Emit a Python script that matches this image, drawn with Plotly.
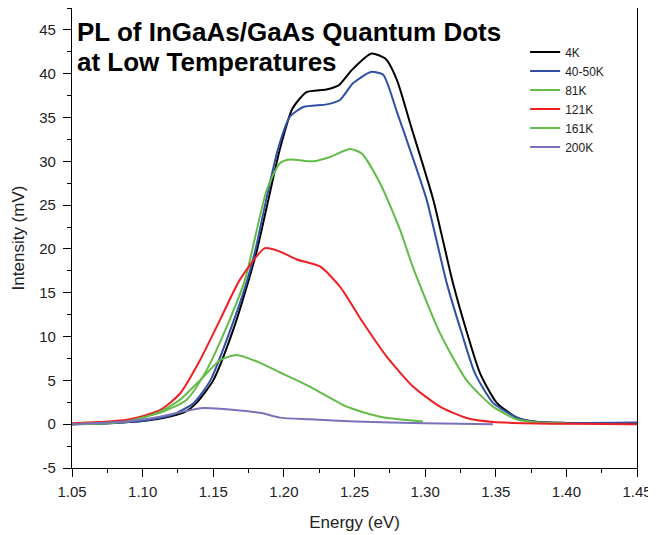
import plotly.graph_objects as go

# ---- data ----
series_names = ["4K", "40-50K", "81K", "121K", "161K", "200K"]

e_4k = [1.05, 1.08, 1.10, 1.12, 1.13, 1.138, 1.150, 1.164, 1.175, 1.181, 1.189, 1.197, 1.206, 1.216,
        1.230, 1.239, 1.248, 1.262, 1.272, 1.280, 1.290, 1.3058, 1.3197, 1.3297, 1.3389, 1.3509,
        1.3658, 1.38, 1.40, 1.45]
i_4k = [0.0, 0.15, 0.35, 0.9, 1.4, 2.4, 5.0, 10.7, 16.4, 19.9, 25.6, 31.3, 36.0, 37.9,
        38.2, 38.7, 40.4, 42.3, 41.7, 39.3, 34.0, 25.6, 16.1, 10.4, 5.8, 2.4,
        0.7, 0.25, 0.15, 0.15]

e_40k = [1.05, 1.08, 1.10, 1.12, 1.136, 1.148, 1.162, 1.174, 1.180, 1.188, 1.196, 1.2043, 1.2138,
         1.2303, 1.2397, 1.2489, 1.2616, 1.2702, 1.2799, 1.290, 1.3011, 1.3153, 1.3259, 1.3353,
         1.3483, 1.3658, 1.38, 1.40, 1.45]
i_40k = [0.0, 0.15, 0.4, 1.0, 2.4, 5.0, 10.7, 16.4, 20.0, 26.0, 31.5, 35.1, 36.2,
         36.5, 37.0, 38.9, 40.2, 39.9, 35.7, 31.0, 25.6, 16.1, 10.4, 5.8,
         2.4, 0.7, 0.25, 0.15, 0.2]

e_81k = [1.05, 1.08, 1.1123, 1.1312, 1.1454, 1.1595, 1.1725, 1.1878, 1.1973, 1.2043, 1.2208,
         1.2327, 1.2468, 1.2551, 1.2681, 1.2822, 1.2914, 1.3105, 1.3294, 1.3481, 1.3658, 1.38, 1.40]
i_81k = [0.0, 0.2, 1.3, 2.8, 6.2, 11.1, 16.5, 26.7, 29.8, 30.2, 30.0,
         30.5, 31.4, 30.9, 27.5, 22.2, 17.9, 10.4, 5.0, 2.0, 0.5, 0.2, 0.1]

e_121k = [1.05, 1.0887, 1.1123, 1.1265, 1.1406, 1.1548, 1.1689, 1.1866, 1.1973, 1.2091, 1.2256,
          1.2397, 1.2560, 1.2728, 1.2914, 1.3105, 1.3294, 1.3481, 1.40, 1.45]
i_121k = [0.1, 0.5, 1.6, 3.5, 7.3, 11.9, 16.5, 20.1, 19.7, 18.8, 18.0,
          15.7, 11.6, 7.7, 4.3, 2.0, 0.7, 0.25, 0.05, 0.0]

e_161k = [1.05, 1.0887, 1.1123, 1.1265, 1.1406, 1.1548, 1.1666, 1.1831, 1.1973, 1.2067, 1.2206,
          1.2445, 1.2681, 1.2985]
i_161k = [0.0, 0.3, 1.4, 2.8, 5.0, 7.3, 7.9, 7.0, 5.9, 5.2, 4.1,
          2.0, 0.85, 0.3]

e_200k = [1.05, 1.0887, 1.1123, 1.1427, 1.1831, 1.197, 1.2185, 1.25, 1.30, 1.348]
i_200k = [0.0, 0.3, 0.85, 1.85, 1.3, 0.75, 0.55, 0.3, 0.1, 0.0]

x_ticks = [1.05, 1.10, 1.15, 1.20, 1.25, 1.30, 1.35, 1.40, 1.45]
x_labels = ["1.05", "1.10", "1.15", "1.20", "1.25", "1.30", "1.35", "1.40", "1.45"]
y_ticks = [-5, 0, 5, 10, 15, 20, 25, 30, 35, 40, 45]
y_labels = ["-5", "0", "5", "10", "15", "20", "25", "30", "35", "40", "45"]

title_line1 = "PL of InGaAs/GaAs Quantum Dots"
title_line2 = "at Low Temperatures"

colors = ["#000000", "#3050A8", "#62BC47", "#EE2024", "#62BC47", "#7A72B8"]
energies = [e_4k, e_40k, e_81k, e_121k, e_161k, e_200k]
intens = [i_4k, i_40k, i_81k, i_121k, i_161k, i_200k]

FONT = "Liberation Sans, Arial, sans-serif"

fig = go.Figure()
for name, ex, iy, c in zip(series_names, energies, intens, colors):
    fig.add_trace(go.Scatter(x=ex, y=iy, mode="lines", name=name,
                             line=dict(color=c, width=2, shape="spline", smoothing=0.6)))

axis_common = dict(showgrid=False, zeroline=False, showline=True, linecolor="#000000",
                   linewidth=1.3, mirror=True, ticks="outside", ticklen=8, tickwidth=1.3,
                   tickcolor="#000000", automargin=False,
                   tickfont=dict(family=FONT, size=15, color="#222222"))

# the page body adds an 8px offset, so the figure is 8px smaller than the window
fig.update_layout(
    width=648, height=527,
    margin=dict(l=64, r=19, t=0, b=67),
    plot_bgcolor="white", paper_bgcolor="white",
    font=dict(family=FONT),
    xaxis=dict(range=[1.05, 1.45], tickvals=x_ticks, ticktext=x_labels, ticklabelstandoff=2,
               minor=dict(ticks="outside", ticklen=4, tickwidth=1.3, tickcolor="#000000", dtick=0.025, tick0=1.05),
               title=dict(text="Energy (eV)", font=dict(family=FONT, size=17, color="#222222"), standoff=16),
               **axis_common),
    yaxis=dict(range=[-5, 47.5], tickvals=y_ticks, ticktext=y_labels, ticklabelstandoff=4,
               minor=dict(ticks="outside", ticklen=4, tickwidth=1.3, tickcolor="#000000", dtick=2.5, tick0=0),
               title=dict(text="Intensity (mV)", font=dict(family=FONT, size=17, color="#222222"), standoff=10),
               **axis_common),
    legend=dict(x=0.802, y=0.936, xanchor="left", yanchor="top", bgcolor="rgba(0,0,0,0)",
                font=dict(family=FONT, size=12, color="#222222"), itemwidth=30, tracegroupgap=0),
    showlegend=True,
)

fig.add_annotation(text="<b>" + title_line1 + "</b>", xref="paper", yref="paper", x=0.005, y=0.948,
                   xanchor="left", yanchor="middle", showarrow=False,
                   font=dict(family=FONT, size=26, color="#000000"))
fig.add_annotation(text="<b>" + title_line2 + "</b>", xref="paper", yref="paper", x=0.005, y=0.8826,
                   xanchor="left", yanchor="middle", showarrow=False,
                   font=dict(family=FONT, size=26, color="#000000"))

fig.write_html("out.html")
